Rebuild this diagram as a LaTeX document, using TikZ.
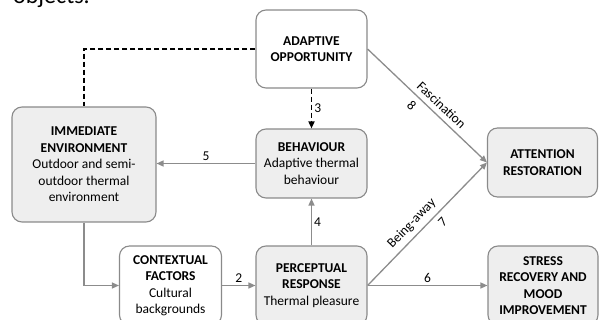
\documentclass[tikz,border=0pt]{standalone}
\usepackage{fontspec}
\setmainfont{Carlito}
\usetikzlibrary{arrows.meta}
\definecolor{boxline}{HTML}{8A8A8A}
\definecolor{boxfill}{HTML}{EEEEEE}
\definecolor{linkgray}{HTML}{8C8C8C}
\begin{document}
\begin{tikzpicture}[x=1pt, y=-1pt,
    box/.style={rectangle, rounded corners=10pt, draw=boxline, line width=1.1pt, fill=white,
      align=center, inner sep=0pt, font=\fontsize{13.5}{16.5}\selectfont},
    shaded/.style={box, fill=boxfill},
    link/.style={draw=linkgray, line width=1.3pt, -{Triangle[length=7pt,width=6pt]}},
    dashlink/.style={draw=black, line width=1.6pt, dash pattern=on 5pt off 3pt},
    lbl/.style={font=\fontsize{13.5}{16.5}\selectfont, inner sep=2pt},
    slbl/.style={lbl, sloped, inner sep=5pt}]
      \useasboundingbox (0,0) rectangle (600,320);
      \clip (0,0) rectangle (600,320);

      % Nodes
      \node[anchor=base west, font=\fontsize{24}{28}\selectfont, inner sep=0pt] at (13,4) (caption) {objects.};
      \node[box, minimum width=111pt, minimum height=78pt] at (311.5,49) (adapt) {\textbf{ADAPTIVE}\\\textbf{OPPORTUNITY}};
      \node[shaded, minimum width=144pt, minimum height=115pt] at (84,164.5) (immed) {\textbf{IMMEDIATE}\\\textbf{ENVIRONMENT}\\Outdoor and semi-\\outdoor thermal\\environment};
      \node[shaded, minimum width=111pt, minimum height=69pt] at (311.5,163.5) (behav) {\textbf{BEHAVIOUR}\\Adaptive thermal\\behaviour};
      \node[shaded, minimum width=110pt, minimum height=69pt] at (542.5,162.5) (attn) {\textbf{ATTENTION}\\\textbf{RESTORATION}};
      \node[box, minimum width=102pt, minimum height=79pt] at (170.5,285.5) (context) {\textbf{CONTEXTUAL}\\\textbf{FACTORS}\\Cultural\\backgrounds};
      \node[shaded, minimum width=111pt, minimum height=79pt] at (311.5,285.5) (percep) {\textbf{PERCEPTUAL}\\\textbf{RESPONSE}\\Thermal pleasure};
      \node[shaded, minimum width=110pt, minimum height=79pt] at (543,285.5) (stress) {\textbf{STRESS}\\\textbf{RECOVERY AND}\\\textbf{MOOD}\\\textbf{IMPROVEMENT}};

      % Links
      \draw[dashlink] (adapt.west) -| (immed.north);
      \draw[dashlink, -{Triangle[length=7pt,width=6pt]}] (adapt.south) -- node[lbl, right] {3} (behav.north);
      \draw[link] (behav.west) -- node[lbl, above] {5} (behav.west -| immed.east);
      \draw[link] (percep.north) -- node[lbl, right] {4} (behav.south);
      \draw[link] (immed.south) |- (context.west);
      \draw[link] (context.east) -- node[lbl, above] {2} (percep.west);
      \draw[link] (percep.east) -- node[lbl, above] {6} (stress.west);
      \draw[link] (percep.east) -- node[slbl, above, pos=0.44] {Being-away} node[slbl, below, pos=0.57] {7} (attn.west);
      \draw[link] (adapt.east) -- node[slbl, above, pos=0.56] {Fascination} node[slbl, below, pos=0.43] {8} (attn.west);
    \end{tikzpicture}
\end{document}
